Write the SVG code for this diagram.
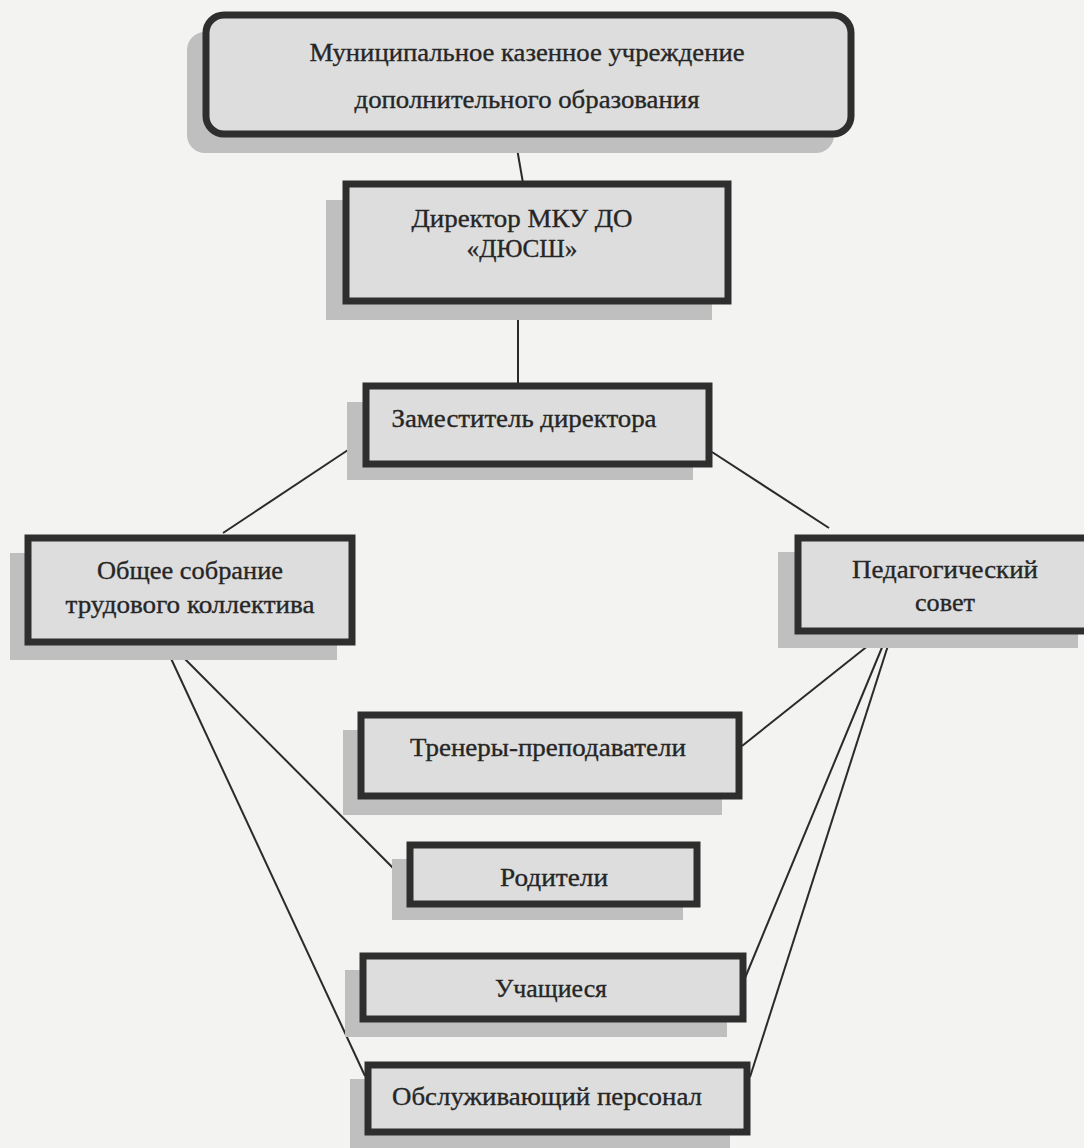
<svg xmlns="http://www.w3.org/2000/svg" width="1084" height="1148" viewBox="0 0 1084 1148">
<style>
.bg{fill:#f3f3f1}
.sh{fill:#bfbfbf}
.box{fill:#dddddd;stroke:#2e2e2e;stroke-width:7}
.t{font-family:"Liberation Serif","Times New Roman",serif;font-size:26px;fill:#262626;stroke:#262626;stroke-width:0.35;text-anchor:middle}
.c{stroke:#2a2a2a;stroke-width:2;fill:none}
</style>
<rect class="bg" x="0" y="0" width="1084" height="1148"/>
<g id="connectors">
<line class="c" x1="515" y1="137" x2="523" y2="183"/>
<line class="c" x1="518" y1="302" x2="518" y2="385"/>
<line class="c" x1="348" y1="450" x2="223" y2="533"/>
<line class="c" x1="712" y1="452" x2="829" y2="528"/>
<line class="c" x1="178" y1="652" x2="405" y2="880"/>
<line class="c" x1="168" y1="652" x2="365" y2="1076"/>
<line class="c" x1="884" y1="633" x2="742" y2="746"/>
<line class="c" x1="888" y1="633" x2="745" y2="978"/>
<line class="c" x1="892" y1="633" x2="750" y2="1077"/>
</g>
<g id="node-mku">
<rect class="sh" x="187" y="32" width="647" height="121" rx="18"/>
<rect class="box" x="206" y="15" width="645" height="119" rx="18"/>
<text class="t" x="527" y="61" textLength="435" lengthAdjust="spacingAndGlyphs">Муниципальное казенное учреждение</text>
<text class="t" x="527" y="108" textLength="345" lengthAdjust="spacingAndGlyphs">дополнительного образования</text>
</g>
<g id="node-director">
<rect class="sh" x="326" y="200" width="386" height="120"/>
<rect class="box" x="346" y="184" width="382" height="117"/>
<text class="t" x="522" y="227" textLength="221" lengthAdjust="spacingAndGlyphs">Директор МКУ ДО</text>
<text class="t" x="522" y="257" textLength="111" lengthAdjust="spacingAndGlyphs">«ДЮСШ»</text>
</g>
<g id="node-deputy">
<rect class="sh" x="347" y="402" width="346" height="78"/>
<rect class="box" x="366" y="386" width="343" height="78"/>
<text class="t" x="524" y="427" textLength="265" lengthAdjust="spacingAndGlyphs">Заместитель директора</text>
</g>
<g id="node-general-meeting">
<rect class="sh" x="10" y="553" width="327" height="107"/>
<rect class="box" x="28" y="538" width="324" height="104"/>
<text class="t" x="190" y="579" textLength="186" lengthAdjust="spacingAndGlyphs">Общее собрание</text>
<text class="t" x="190" y="613" textLength="249" lengthAdjust="spacingAndGlyphs">трудового коллектива</text>
</g>
<g id="node-ped-council">
<rect class="sh" x="778" y="552" width="300" height="96"/>
<rect class="box" x="798" y="538" width="290" height="93"/>
<text class="t" x="945" y="578" textLength="186" lengthAdjust="spacingAndGlyphs">Педагогический</text>
<text class="t" x="945" y="611" textLength="60" lengthAdjust="spacingAndGlyphs">совет</text>
</g>
<g id="node-trainers">
<rect class="sh" x="343" y="730" width="379" height="85"/>
<rect class="box" x="361" y="715" width="378" height="81"/>
<text class="t" x="548" y="756" textLength="276" lengthAdjust="spacingAndGlyphs">Тренеры-преподаватели</text>
</g>
<g id="node-parents">
<rect class="sh" x="392" y="859" width="291" height="61"/>
<rect class="box" x="410" y="845" width="287" height="59"/>
<text class="t" x="554" y="886" textLength="108" lengthAdjust="spacingAndGlyphs">Родители</text>
</g>
<g id="node-students">
<rect class="sh" x="345" y="970" width="382" height="67"/>
<rect class="box" x="363" y="956" width="380" height="63"/>
<text class="t" x="551" y="997" textLength="112" lengthAdjust="spacingAndGlyphs">Учащиеся</text>
</g>
<g id="node-staff">
<rect class="sh" x="350" y="1079" width="380" height="69"/>
<rect class="box" x="368" y="1065" width="379" height="67"/>
<text class="t" x="547" y="1105" textLength="310" lengthAdjust="spacingAndGlyphs">Обслуживающий персонал</text>
</g>
</svg>
